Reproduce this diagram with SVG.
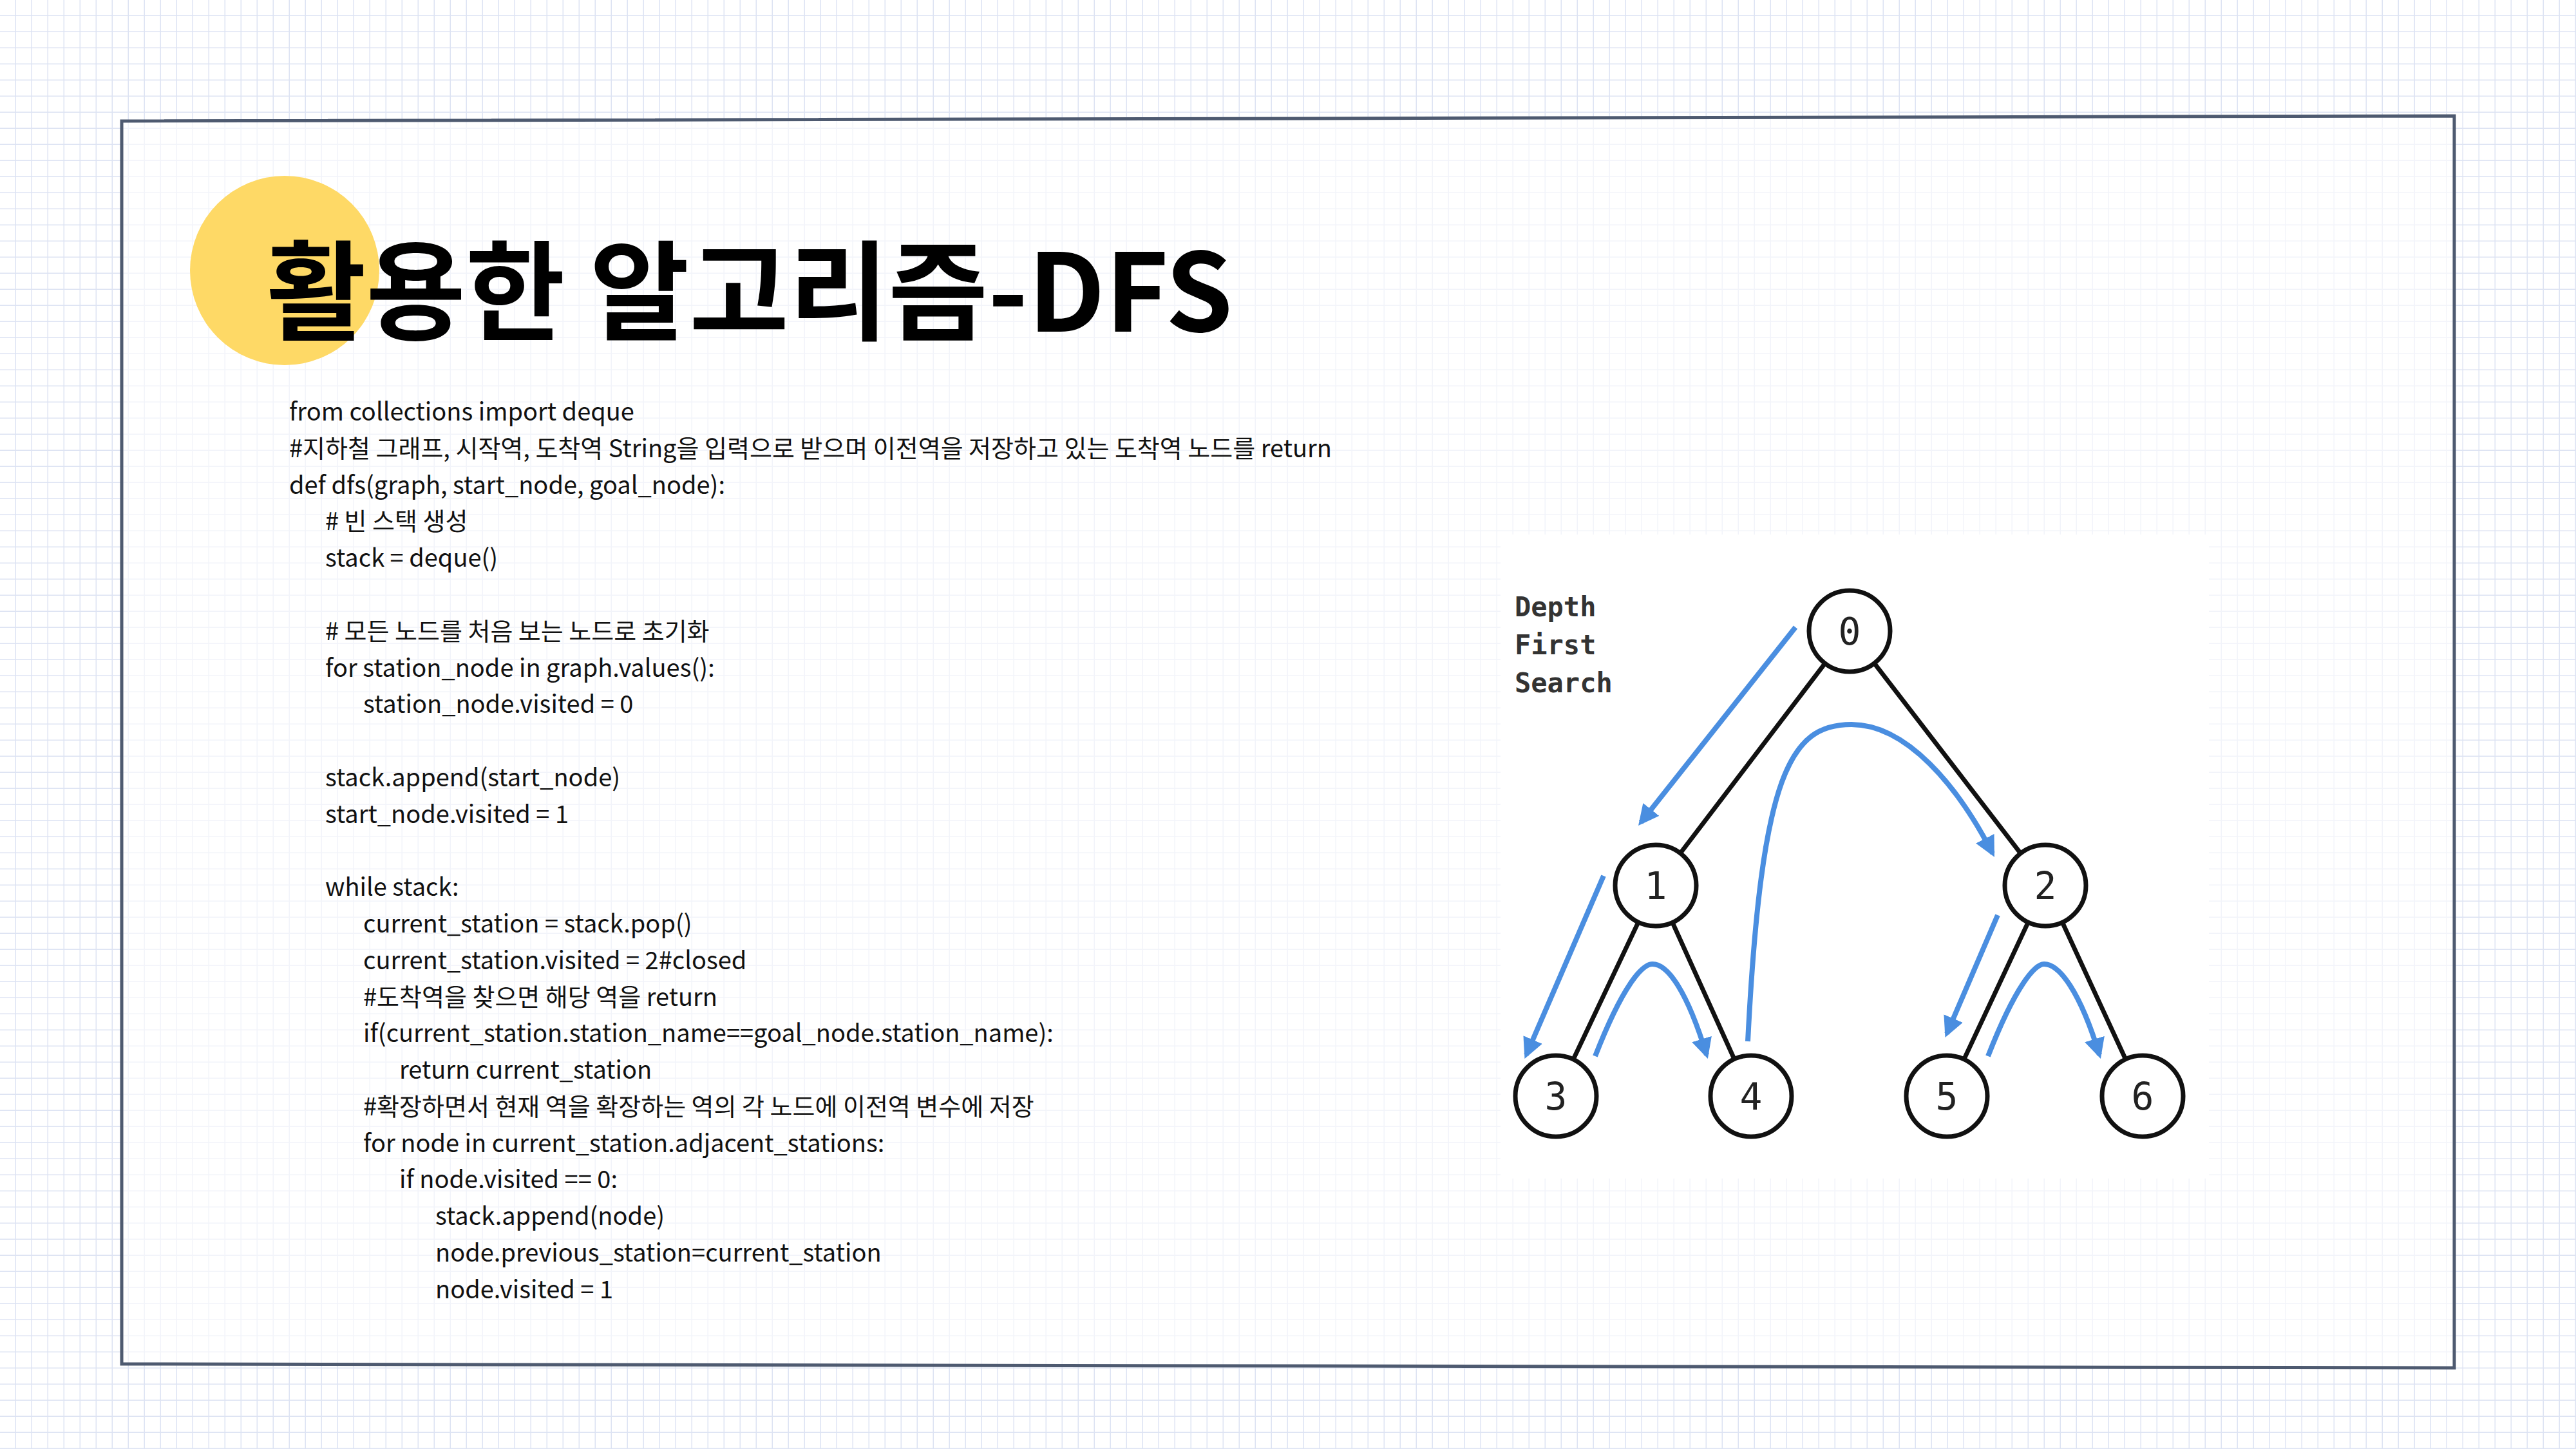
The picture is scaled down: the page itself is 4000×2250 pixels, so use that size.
<svg xmlns="http://www.w3.org/2000/svg" width="4000" height="2250" viewBox="0 0 4000 2250">
<defs>
<pattern id="g" width="25" height="25" patternUnits="userSpaceOnUse"><path d="M25 0V25M0 25H25" stroke="#dde3f3" stroke-width="3" fill="none"/></pattern>
<pattern id="gi" width="25" height="25" patternUnits="userSpaceOnUse"><path d="M25 0V25M0 25H25" stroke="#f2f4fa" stroke-width="3" fill="none"/></pattern>
<marker id="ah" viewBox="0 0 10 10" refX="8" refY="5" markerWidth="4" markerHeight="4" orient="auto" markerUnits="strokeWidth"><path d="M0 0L10 5L0 10z" fill="#4a8ee0"/></marker>
<style>
.code{font-family:"Noto Sans CJK KR","Liberation Sans",sans-serif;font-size:38px;fill:#111}
.edge{stroke:#111;stroke-width:7;fill:none}
.blue{stroke:#4a8ee0;stroke-width:8;fill:none;marker-end:url(#ah)}
.node circle{fill:#fff;stroke:#111;stroke-width:7}
.node text{font-family:"DejaVu Sans Mono",monospace;font-size:58px;fill:#222;text-anchor:middle}
.lbl{font-family:"DejaVu Sans Mono",monospace;font-size:42px;font-weight:bold;fill:#333}
</style>
</defs>
<rect width="4000" height="2250" fill="#fff"/>
<rect width="4000" height="2250" fill="url(#g)"/>
<g id="paper">
<path d="M189 188L3811 180L3811 2124L189 2118Z" fill="#fff"/>
<path d="M189 188L3811 180L3811 2124L189 2118Z" fill="url(#gi)" stroke="#4e5a70" stroke-width="5"/>
<rect x="2330" y="830" width="1100" height="1000" fill="#fff"/>
</g>
<g id="title">
<circle cx="442" cy="420" r="147" fill="#fed966"/>
<text x="414" y="515" font-family="Noto Sans CJK KR,Liberation Sans,sans-serif" font-size="168" font-weight="bold" fill="#000">활용한 알고리즘-DFS</text>
</g>
<g id="code" class="code">
<text x="449" y="653">from collections import deque</text>
<text x="449" y="710">#지하철 그래프, 시작역, 도착역 String을 입력으로 받으며 이전역을 저장하고 있는 도착역 노드를 return</text>
<text x="449" y="767">def dfs(graph, start_node, goal_node):</text>
<text x="505" y="823"># 빈 스택 생성</text>
<text x="505" y="880">stack = deque()</text>
<text x="505" y="994"># 모든 노드를 처음 보는 노드로 초기화</text>
<text x="505" y="1051">for station_node in graph.values():</text>
<text x="564" y="1107">station_node.visited = 0</text>
<text x="505" y="1221">stack.append(start_node)</text>
<text x="505" y="1278">start_node.visited = 1</text>
<text x="505" y="1391">while stack:</text>
<text x="564" y="1448">current_station = stack.pop()</text>
<text x="564" y="1505">current_station.visited = 2#closed</text>
<text x="564" y="1562">#도착역을 찾으면 해당 역을 return</text>
<text x="564" y="1618">if(current_station.station_name==goal_node.station_name):</text>
<text x="620" y="1675">return current_station</text>
<text x="564" y="1732">#확장하면서 현재 역을 확장하는 역의 각 노드에 이전역 변수에 저장</text>
<text x="564" y="1789">for node in current_station.adjacent_stations:</text>
<text x="620" y="1845">if node.visited == 0:</text>
<text x="676" y="1902">stack.append(node)</text>
<text x="676" y="1959">node.previous_station=current_station</text>
<text x="676" y="2016">node.visited = 1</text>
</g>
<g id="label" class="lbl">
<text x="2352" y="957">Depth</text>
<text x="2352" y="1016">First</text>
<text x="2352" y="1075">Search</text>
</g>
<g id="connectors">
<path class="edge" d="M2872 980L2571 1375M2872 980L3176 1375M2571 1375L2416 1702M2571 1375L2719 1702M3176 1375L3023 1702M3176 1375L3327 1702"/>
<path class="blue" d="M2788 974L2548 1277"/>
<path class="blue" d="M2490 1360L2370 1638"/>
<path class="blue" d="M2477 1640C2520 1530 2550 1497 2566 1497C2590 1497 2620 1540 2650 1638"/>
<path class="blue" d="M2714 1617C2735 1200 2780 1125 2875 1125C2960 1125 3040 1220 3094 1325"/>
<path class="blue" d="M3102 1421L3023 1605"/>
<path class="blue" d="M3087 1640C3130 1530 3160 1497 3174 1497C3198 1497 3230 1540 3260 1638"/>
</g>
<g id="n0" class="node"><circle cx="2872" cy="980" r="63"/><text x="2872" y="1001">0</text></g>
<g id="n1" class="node"><circle cx="2571" cy="1375" r="63"/><text x="2571" y="1396">1</text></g>
<g id="n2" class="node"><circle cx="3176" cy="1375" r="63"/><text x="3176" y="1396">2</text></g>
<g id="n3" class="node"><circle cx="2416" cy="1702" r="63"/><text x="2416" y="1723">3</text></g>
<g id="n4" class="node"><circle cx="2719" cy="1702" r="63"/><text x="2719" y="1723">4</text></g>
<g id="n5" class="node"><circle cx="3023" cy="1702" r="63"/><text x="3023" y="1723">5</text></g>
<g id="n6" class="node"><circle cx="3327" cy="1702" r="63"/><text x="3327" y="1723">6</text></g>
</svg>
